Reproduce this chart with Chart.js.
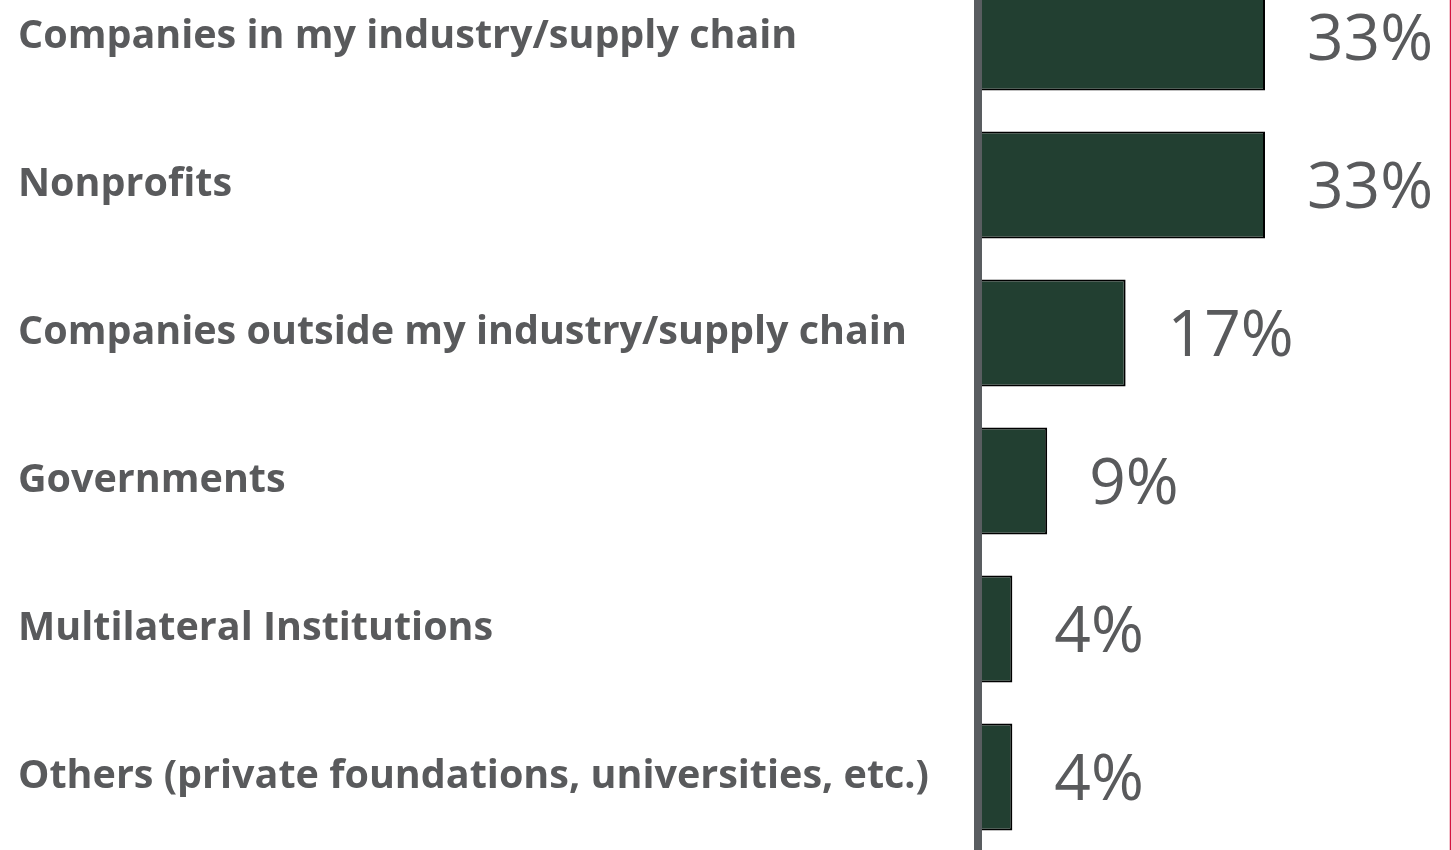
<!DOCTYPE html>
<html>
<head>
<meta charset="utf-8">
<script src="https://cdn.jsdelivr.net/npm/chart.js@4/dist/chart.umd.min.js"></script>
<style>
    html, body { margin: 0; padding: 0; background: #ffffff; overflow: hidden; }
    #wrap { position: absolute; left: 0; top: -37px; width: 1452px; height: 888px; }
</style>
</head>
<body>
<div id="wrap"><canvas id="grafico"></canvas></div>
<script>
const categorias = [
    'Companies in my industry/supply chain',
    'Nonprofits',
    'Companies outside my industry/supply chain',
    'Governments',
    'Multilateral Institutions',
    'Others (private foundations, universities, etc.)'
];
const valores = [33, 33, 17, 8, 4, 4]; // comprimento das barras
const rotulos = ['33%', '33%', '17%', '9%', '4%', '4%']; // texto impresso ao lado de cada barra

const cinza = '#595a5c';

const rotulosValor = { // escreve o percentual ao lado de cada barra
    id: 'rotulosValor',
    afterDatasetsDraw(chart) {
        const c = chart.ctx;
        const meta = chart.getDatasetMeta(0);
        c.save();
        c.font = '64px "Open Sans"';
        c.fillStyle = cinza;
        c.textAlign = 'left';
        c.textBaseline = 'alphabetic';
        meta.data.forEach((bar, i) => {
            c.fillText(rotulos[i], bar.x + 42, bar.y + 23);
        });
        c.restore();
    }
};

const bordaDireita = { // linha vermelha fina na borda direita
    id: 'bordaDireita',
    afterDraw(chart) {
        const c = chart.ctx;
        c.save();
        c.strokeStyle = '#d4123f';
        c.lineWidth = 1.5;
        c.beginPath();
        c.moveTo(chart.width - 1.5, 0);
        c.lineTo(chart.width - 1.5, chart.height);
        c.stroke();
        c.restore();
    }
};

new Chart(document.getElementById('grafico'), {
    type: 'bar',
    data: {
        labels: categorias,
        datasets: [{
            data: valores,
            backgroundColor: '#223f31',
            borderColor: '#000000',
            borderWidth: 2,
            barPercentage: 0.723,
            categoryPercentage: 1
        }]
    },
    options: {
        indexAxis: 'y',
        responsive: true,
        maintainAspectRatio: false,
        animation: false,
        layout: {
            padding: { left: 18, right: 4, top: 0, bottom: 0 }
        },
        scales: {
            x: {
                display: false,
                min: 0,
                max: 54
            },
            y: {
                afterFit(scale) {
                    scale.width = 959.5;
                    scale.paddingTop = 0;
                    scale.paddingBottom = 0;
                },
                grid: { display: false },
                border: { display: true, color: '#595d60', width: 8, z: 1 },
                ticks: {
                    crossAlign: 'far',
                    color: cinza,
                    padding: 0,
                    font: { family: '"Open Sans"', size: 39.5, weight: 'bold' }
                }
            }
        },
        plugins: {
            legend: { display: false },
            tooltip: { enabled: false }
        }
    },
    plugins: [rotulosValor, bordaDireita]
});
</script>
</body>
</html>
